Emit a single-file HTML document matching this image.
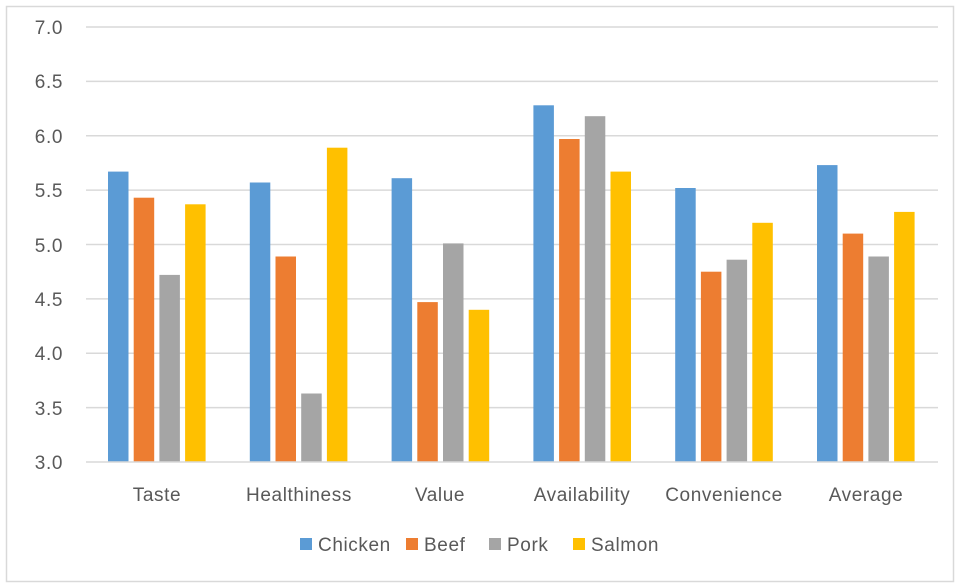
<!DOCTYPE html>
<html><head><meta charset="utf-8"><style>
html,body{margin:0;padding:0;background:#fff;}
svg{display:block;}
text{font-family:"Liberation Sans",sans-serif;fill:#595959;letter-spacing:0.6px;}
</style></head><body>
<svg width="960" height="587" viewBox="0 0 960 587">
<rect x="6.5" y="6.5" width="947" height="575" fill="#fff" stroke="#d9d9d9" stroke-width="1.5"/>
<g stroke="#d9d9d9" stroke-width="1.5">
<line x1="86" x2="938" y1="27" y2="27"/>
<line x1="86" x2="938" y1="81.4" y2="81.4"/>
<line x1="86" x2="938" y1="135.8" y2="135.8"/>
<line x1="86" x2="938" y1="190.1" y2="190.1"/>
<line x1="86" x2="938" y1="244.5" y2="244.5"/>
<line x1="86" x2="938" y1="298.9" y2="298.9"/>
<line x1="86" x2="938" y1="353.3" y2="353.3"/>
<line x1="86" x2="938" y1="407.6" y2="407.6"/>
</g>
<g font-size="19" text-anchor="end">
<text x="63" y="34">7.0</text>
<text x="63" y="88">6.5</text>
<text x="63" y="143">6.0</text>
<text x="63" y="197">5.5</text>
<text x="63" y="252">5.0</text>
<text x="63" y="306">4.5</text>
<text x="63" y="360">4.0</text>
<text x="63" y="415">3.5</text>
<text x="63" y="469">3.0</text>
</g>
<g>
<rect x="108" y="171.6" width="20.5" height="290.4" fill="#5b9bd5"/>
<rect x="133.7" y="197.7" width="20.5" height="264.3" fill="#ed7d31"/>
<rect x="159.4" y="274.9" width="20.5" height="187.1" fill="#a5a5a5"/>
<rect x="185.1" y="204.3" width="20.5" height="257.7" fill="#ffc000"/>
<rect x="249.8" y="182.5" width="20.5" height="279.5" fill="#5b9bd5"/>
<rect x="275.5" y="256.5" width="20.5" height="205.5" fill="#ed7d31"/>
<rect x="301.2" y="393.5" width="20.5" height="68.5" fill="#a5a5a5"/>
<rect x="326.9" y="147.7" width="20.5" height="314.3" fill="#ffc000"/>
<rect x="391.6" y="178.2" width="20.5" height="283.8" fill="#5b9bd5"/>
<rect x="417.3" y="302.1" width="20.5" height="159.9" fill="#ed7d31"/>
<rect x="443" y="243.4" width="20.5" height="218.6" fill="#a5a5a5"/>
<rect x="468.7" y="309.8" width="20.5" height="152.2" fill="#ffc000"/>
<rect x="533.4" y="105.3" width="20.5" height="356.7" fill="#5b9bd5"/>
<rect x="559.1" y="139" width="20.5" height="323" fill="#ed7d31"/>
<rect x="584.8" y="116.2" width="20.5" height="345.8" fill="#a5a5a5"/>
<rect x="610.5" y="171.6" width="20.5" height="290.4" fill="#ffc000"/>
<rect x="675.2" y="188" width="20.5" height="274" fill="#5b9bd5"/>
<rect x="700.9" y="271.7" width="20.5" height="190.3" fill="#ed7d31"/>
<rect x="726.6" y="259.7" width="20.5" height="202.3" fill="#a5a5a5"/>
<rect x="752.3" y="222.8" width="20.5" height="239.2" fill="#ffc000"/>
<rect x="817" y="165.1" width="20.5" height="296.9" fill="#5b9bd5"/>
<rect x="842.7" y="233.6" width="20.5" height="228.4" fill="#ed7d31"/>
<rect x="868.4" y="256.5" width="20.5" height="205.5" fill="#a5a5a5"/>
<rect x="894.1" y="211.9" width="20.5" height="250.1" fill="#ffc000"/>
</g>
<line x1="86" x2="938" y1="462" y2="462" stroke="#d9d9d9" stroke-width="1.5"/>
<g font-size="19" text-anchor="middle">
<text x="157" y="501">Taste</text>
<text x="299" y="501">Healthiness</text>
<text x="440" y="501">Value</text>
<text x="582" y="501">Availability</text>
<text x="724" y="501">Convenience</text>
<text x="866" y="501">Average</text>
</g>
<g font-size="19">
<rect x="300" y="538" width="12" height="12" fill="#5b9bd5"/><text x="318" y="551">Chicken</text>
<rect x="406" y="538" width="12" height="12" fill="#ed7d31"/><text x="424" y="551">Beef</text>
<rect x="489" y="538" width="12" height="12" fill="#a5a5a5"/><text x="507" y="551">Pork</text>
<rect x="573" y="538" width="12" height="12" fill="#ffc000"/><text x="591" y="551">Salmon</text>
</g>
</svg>
</body></html>
